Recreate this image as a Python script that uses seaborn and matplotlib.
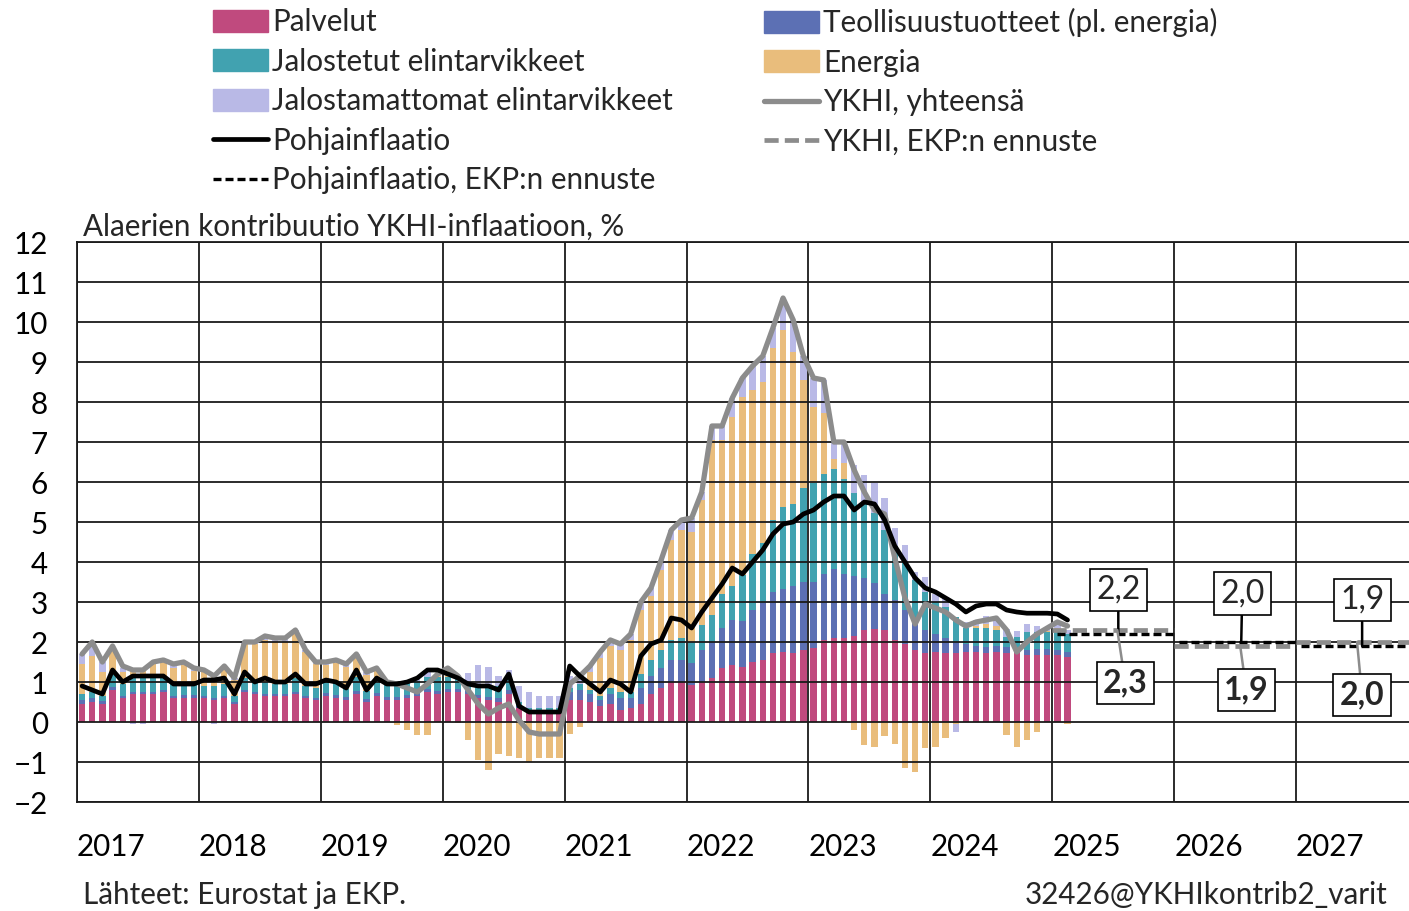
import numpy as np
import matplotlib
matplotlib.use("Agg")
import matplotlib.pyplot as plt
from matplotlib.patches import Patch
from matplotlib.lines import Line2D
import seaborn as sns

sns.set_theme(style="white")
plt.rcParams["font.family"] = ["Lato", "DejaVu Sans"]

# monthly data Jan 2017 - Feb 2025, contributions in %-points
palvelut = [
    0.45, 0.5, 0.45, 0.8, 0.6, 0.7, 0.7, 0.7, 0.75, 0.6, 0.6, 0.6,
    0.6, 0.55, 0.6, 0.45, 0.75, 0.7, 0.65, 0.65, 0.65, 0.7, 0.6, 0.55,
    0.65, 0.6, 0.55, 0.7, 0.5, 0.65, 0.55, 0.55, 0.6, 0.65, 0.75, 0.7,
    0.75, 0.75, 0.7, 0.6, 0.55, 0.5, 0.7, 0.35, 0.28, 0.28, 0.28, 0.28,
    0.55, 0.55, 0.5, 0.4, 0.45, 0.3, 0.35, 0.45, 0.7, 0.85, 1.0, 1.0,
    0.93, 1.0, 1.09, 1.34, 1.43, 1.38, 1.5, 1.55, 1.72, 1.75, 1.72, 1.8,
    1.85, 2.05, 2.1, 2.1, 2.15, 2.3, 2.32, 2.3, 2.05, 1.95, 1.8, 1.72,
    1.75, 1.72, 1.72, 1.76, 1.76, 1.72, 1.76, 1.72, 1.72, 1.68, 1.68, 1.68,
    1.68, 1.63,
]
teollisuus = [
    0.1, 0.1, 0.08, 0.08, 0.05, 0.05, 0.05, 0.05, 0.05, 0.05, 0.08, 0.08,
    0.05, 0.05, 0.05, 0.05, 0.05, 0.05, 0.05, 0.05, 0.05, 0.05, 0.05, 0.05,
    0.08, 0.08, 0.08, 0.08, 0.08, 0.08, 0.08, 0.08, 0.08, 0.08, 0.08, 0.08,
    0.08, 0.08, 0.08, 0.08, 0.08, 0.1, 0.1, 0.05, 0.02, 0.02, 0.02, 0.02,
    0.2, 0.25, 0.2, 0.15, 0.25, 0.3, 0.25, 0.4, 0.45, 0.5, 0.55, 0.55,
    0.54, 0.8, 0.91, 1.0, 1.12, 1.15, 1.3, 1.42, 1.54, 1.57, 1.68, 1.69,
    1.65, 1.65, 1.72, 1.6, 1.5, 1.3, 1.15, 0.9, 1.0, 0.85, 0.65, 0.58,
    0.45, 0.38, 0.25, 0.2, 0.15, 0.15, 0.15, 0.15, 0.1, 0.12, 0.15, 0.15,
    0.12, 0.12,
]
jalostetut = [
    0.15, 0.15, 0.12, 0.35, 0.3, 0.4, 0.4, 0.4, 0.35, 0.3, 0.3, 0.3,
    0.25, 0.3, 0.3, 0.15, 0.3, 0.25, 0.3, 0.25, 0.25, 0.35, 0.25, 0.25,
    0.25, 0.3, 0.2, 0.35, 0.2, 0.3, 0.3, 0.3, 0.3, 0.3, 0.3, 0.35,
    0.3, 0.25, 0.2, 0.25, 0.3, 0.3, 0.35, 0.1, 0.05, 0.05, 0.05, 0.05,
    0.1, 0.15, 0.1, 0.1, 0.15, 0.15, 0.15, 0.35, 0.4, 0.45, 0.5, 0.55,
    0.53, 0.62, 0.67, 0.85, 0.85, 1.15, 1.4, 1.5, 1.8, 2.05, 2.05, 2.35,
    2.47, 2.5, 2.5, 2.37, 2.07, 1.9, 1.75, 1.6, 1.35, 1.2, 1.1, 0.95,
    0.8, 0.78, 0.66, 0.38, 0.43, 0.47, 0.39, 0.26, 0.31, 0.46, 0.43, 0.43,
    0.5, 0.45,
]
energia = [
    0.75, 0.9, 0.6, 0.55, 0.3, 0.2, 0.2, 0.3, 0.35, 0.4, 0.45, 0.3,
    0.35, 0.25, 0.4, 0.4, 0.85, 0.95, 1.05, 1.05, 1.05, 1.1, 0.85, 0.6,
    0.45, 0.5, 0.55, 0.5, 0.4, 0.25, 0.0, -0.08, -0.2, -0.33, -0.33, 0.02,
    0.15, -0.03, -0.45, -0.95, -1.2, -0.8, -0.85, -0.9, -1.0, -0.9, -0.9, -0.9,
    -0.3, -0.12, 0.45, 0.95, 1.05, 1.05, 1.3, 1.6, 1.6, 2.0, 2.5, 2.7,
    2.76, 3.13, 4.38, 3.86, 4.23, 4.45, 4.1, 4.03, 4.28, 4.43, 3.81, 2.71,
    1.91, 1.52, 0.25, 0.4, -0.2, -0.58, -0.62, -0.35, -0.55, -1.15, -1.25, -0.66,
    -0.62, -0.41, -0.05, 0.0, 0.05, 0.1, 0.1, -0.33, -0.62, -0.45, -0.24, 0.02,
    0.05, -0.05,
]
jalostamattomat = [
    0.25, 0.3, 0.25, 0.1, 0.1, -0.05, -0.05, 0.05, 0.05, 0.1, 0.07, 0.07,
    0.05, -0.05, 0.05, 0.05, 0.05, 0.05, 0.1, 0.1, 0.1, 0.1, 0.05, 0.05,
    0.07, 0.07, 0.07, 0.07, 0.07, 0.07, 0.07, 0.1, 0.07, 0.05, 0.15, 0.05,
    0.07, 0.1, 0.25, 0.5, 0.45, 0.25, 0.15, 0.4, 0.4, 0.3, 0.3, 0.3,
    0.3, 0.3, 0.15, 0.15, 0.15, 0.15, 0.15, 0.2, 0.2, 0.25, 0.25, 0.25,
    0.34, 0.2, 0.35, 0.35, 0.47, 0.47, 0.6, 0.65, 0.51, 0.8, 0.79, 0.6,
    0.72, 0.83, 0.45, 0.5, 0.7, 0.67, 0.75, 0.8, 0.46, 0.42, 0.2, 0.38,
    0.2, 0.25, -0.2, 0.15, 0.15, 0.2, 0.2, 0.2, 0.15, 0.2, 0.15, 0.1,
    0.1, 0.1,
]
ykhi = [
    1.7, 2.0, 1.5, 1.9, 1.4, 1.3, 1.3, 1.5, 1.55, 1.45, 1.5, 1.35,
    1.3, 1.15, 1.4, 1.1, 2.0, 2.0, 2.15, 2.1, 2.1, 2.3, 1.8, 1.5,
    1.5, 1.55, 1.45, 1.7, 1.25, 1.35, 1.0, 0.95, 0.85, 0.75, 0.95, 1.2,
    1.35, 1.15, 0.8, 0.45, 0.2, 0.35, 0.45, 0.05, -0.25, -0.3, -0.3, -0.3,
    0.95, 1.15, 1.4, 1.75, 2.05, 1.95, 2.2, 3.0, 3.35, 4.05, 4.8, 5.05,
    5.1, 5.75, 7.4, 7.4, 8.1, 8.6, 8.9, 9.15, 9.85, 10.6, 10.05, 9.15,
    8.6, 8.55, 7.0, 7.0, 6.3, 5.75, 5.3, 5.2, 4.1, 3.1, 2.45, 2.95,
    2.85, 2.75, 2.55, 2.4, 2.5, 2.55, 2.6, 2.3, 1.75, 2.0, 2.2, 2.35,
    2.5, 2.4,
]
pohjainflaatio = [
    0.9, 0.8, 0.7, 1.3, 1.0, 1.15, 1.15, 1.15, 1.15, 0.95, 0.95, 0.95,
    1.05, 1.05, 1.1, 0.7, 1.25, 1.0, 1.1, 1.0, 1.0, 1.2, 0.95, 0.95,
    1.05, 1.0, 0.85, 1.3, 0.8, 1.1, 0.95, 0.95, 1.0, 1.1, 1.3, 1.3,
    1.2, 1.1, 0.95, 0.9, 0.9, 0.8, 1.2, 0.4, 0.25, 0.25, 0.25, 0.25,
    1.4, 1.15, 0.95, 0.75, 1.05, 0.95, 0.75, 1.65, 1.95, 2.05, 2.6, 2.55,
    2.35, 2.75, 3.1, 3.45, 3.85, 3.7, 4.0, 4.3, 4.7, 4.95, 5.0, 5.2,
    5.3, 5.5, 5.65, 5.65, 5.3, 5.5, 5.45, 5.05, 4.4, 4.0, 3.6, 3.35,
    3.25, 3.1, 2.95, 2.75, 2.9, 2.95, 2.95, 2.8, 2.75, 2.72, 2.72, 2.72,
    2.7, 2.55,
]

ennuste_vuodet = [2025, 2026, 2027]
ykhi_ennuste = [2.3, 1.9, 2.0]
pohja_ennuste = [2.2, 2.0, 1.9]
vuodet = list(range(2017, 2028))

c_palv = "#C04A7E"
c_teol = "#5C70B4"
c_jal = "#41A2B0"
c_ener = "#E9BD7C"
c_jalm = "#B9B9E6"
c_ykhi = "#8C8C8C"

W, H = 1409, 911
fig = plt.figure(figsize=(W / 100, H / 100), dpi=100)
ax = fig.add_axes([77 / W, 109 / H, 1341 / W, 560 / H])

fs = 21.3
n = len(palvelut)
x = np.arange(n)

# stacked bars, positives up and negatives down
pos_base = np.zeros(n)
neg_base = np.zeros(n)
for vals, col in [(palvelut, c_palv), (teollisuus, c_teol), (jalostetut, c_jal),
                  (energia, c_ener), (jalostamattomat, c_jalm)]:
    v = np.array(vals)
    base = np.where(v >= 0, pos_base, neg_base)
    ax.bar(x, v, bottom=base, width=0.62, color=col, linewidth=0, zorder=1)
    pos_base += np.clip(v, 0, None)
    neg_base += np.clip(v, None, 0)

sns.lineplot(x=x, y=ykhi, ax=ax, color=c_ykhi, linewidth=3.8, zorder=4)
sns.lineplot(x=x, y=pohjainflaatio, ax=ax, color="black", linewidth=3.4, zorder=5)

# forecasts: one flat line per year
for k, yr in enumerate(ennuste_vuodet):
    x0 = 12 * (yr - 2017) - 0.5
    ax.plot([x0, x0 + 12], [ykhi_ennuste[k]] * 2, color=c_ykhi, lw=3.4,
            dashes=(3.0, 1.3), zorder=4)
    ax.plot([x0 + 0.5, x0 + 12], [pohja_ennuste[k]] * 2, color="black", lw=2.4,
            dashes=(2.4, 1.2), zorder=5)

# value boxes
top_pos = [(102.0, 3.3), (114.2, 3.22), (126.0, 3.05)]
bot_pos = [(102.7, 0.97), (114.6, 0.8), (126.0, 0.67)]
top_anchor = [102.0, 114.1, 126.0]
bot_anchor = [101.9, 114.0, 125.5]
for k in range(len(ennuste_vuodet)):
    ax.annotate(f"{pohja_ennuste[k]:.1f}".replace(".", ","),
                xy=(top_anchor[k], pohja_ennuste[k]), xytext=top_pos[k],
                ha="center", va="center", fontsize=23,
                bbox=dict(boxstyle="square,pad=0.2", fc="white", ec="black", lw=1.2),
                arrowprops=dict(arrowstyle="-", color="black", lw=1.8,
                                shrinkA=0, shrinkB=0), zorder=6)
    ax.annotate(f"{ykhi_ennuste[k]:.1f}".replace(".", ","),
                xy=(bot_anchor[k], ykhi_ennuste[k]), xytext=bot_pos[k],
                ha="center", va="center", fontsize=23, fontweight="bold",
                bbox=dict(boxstyle="square,pad=0.2", fc="white", ec="black", lw=1.2),
                arrowprops=dict(arrowstyle="-", color=c_ykhi, lw=1.8,
                                shrinkA=0, shrinkB=0), zorder=6)

ax.set_xlim(-0.5, 131.5)
ax.set_ylim(-2, 12)
ax.set_yticks(range(-2, 13))
ax.set_xticks([12 * i - 0.5 for i in range(len(vuodet))])
ax.set_xticklabels([str(v) for v in vuodet], ha="left")
ax.tick_params(axis="both", length=0, labelsize=fs, colors="black")
ax.tick_params(axis="y", pad=21)
ax.tick_params(axis="x", pad=22)
ax.grid(True, color="#1a1a1a", linewidth=1.3)
ax.set_axisbelow(False)
for s in ax.spines.values():
    s.set_color("#1a1a1a")
    s.set_linewidth(1.3)
ax.set_xlabel("")
ax.set_ylabel("")

fig.text(83 / W, 1 - 227 / H, "Alaerien kontribuutio YKHI-inflaatioon, %",
         fontsize=fs, va="center", ha="left")
fig.text(83 / W, 1 - 895 / H, "Lähteet: Eurostat ja EKP.", fontsize=fs,
         va="center", ha="left")
fig.text(1387 / W, 1 - 895 / H, "32426@YKHIkontrib2_varit", fontsize=fs,
         va="center", ha="right")

left_handles = [
    Patch(color=c_palv), Patch(color=c_jal), Patch(color=c_jalm),
    Line2D([], [], color="black", lw=3.4),
    Line2D([], [], color="black", lw=2.4, dashes=(2.4, 1.2)),
]
left_labels = ["Palvelut", "Jalostetut elintarvikkeet", "Jalostamattomat elintarvikkeet",
               "Pohjainflaatio", "Pohjainflaatio, EKP:n ennuste"]
right_handles = [
    Patch(color=c_teol), Patch(color=c_ener),
    Line2D([], [], color=c_ykhi, lw=3.8),
    Line2D([], [], color=c_ykhi, lw=3.4, dashes=(3.0, 1.3)),
]
right_labels = ["Teollisuustuotteet (pl. energia)", "Energia", "YKHI, yhteensä",
                "YKHI, EKP:n ennuste"]
leg_kw = dict(loc="upper left", frameon=False, fontsize=fs, borderpad=0,
              borderaxespad=0, handlelength=1.86, handleheight=0.75,
              handletextpad=0.13, labelspacing=0.39)
fig.legend(left_handles, left_labels, bbox_to_anchor=(213 / W, 1 - 8 / H), **leg_kw)
fig.legend(right_handles, right_labels, bbox_to_anchor=(764 / W, 1 - 8 / H), **leg_kw)

fig.savefig("out.png", dpi=100)
